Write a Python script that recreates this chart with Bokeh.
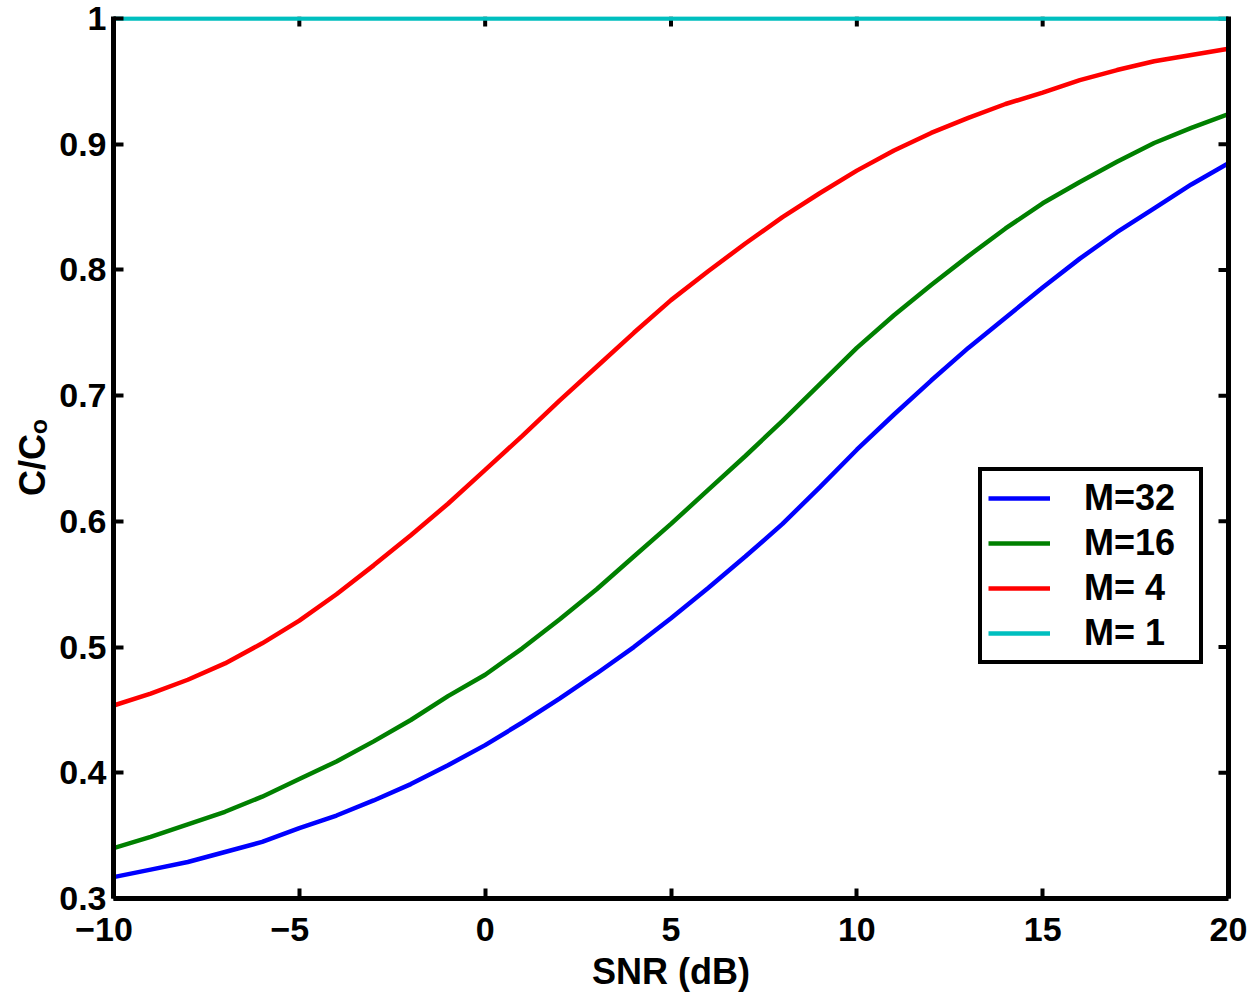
from math import pi
from bokeh.plotting import figure
from bokeh.models import Range1d, LinearAxis, FixedTicker, Legend, LegendItem
from bokeh.embed import file_html
from bokeh.resources import INLINE

# ---- data ----
snr_db = [-10, -9, -8, -7, -6, -5, -4, -3, -2, -1, 0, 1, 2, 3, 4, 5, 6, 7, 8, 9, 10,
          11, 12, 13, 14, 15, 16, 17, 18, 19, 20]
m32 = [0.317, 0.323, 0.329, 0.337, 0.345, 0.356, 0.366, 0.378, 0.391, 0.406,
       0.422, 0.440, 0.459, 0.479, 0.500, 0.523, 0.547, 0.572, 0.598, 0.627, 0.657,
       0.685, 0.712, 0.738, 0.762, 0.786, 0.809, 0.830, 0.849, 0.868, 0.885]
m16 = [0.340, 0.349, 0.359, 0.369, 0.381, 0.395, 0.409, 0.425, 0.442, 0.461,
       0.478, 0.499, 0.522, 0.546, 0.572, 0.598, 0.625, 0.652, 0.680, 0.709, 0.738,
       0.764, 0.788, 0.811, 0.833, 0.853, 0.870, 0.886, 0.901, 0.913, 0.924]
m4 = [0.4535, 0.463, 0.474, 0.487, 0.503, 0.521, 0.542, 0.565, 0.589, 0.614,
      0.641, 0.668, 0.696, 0.723, 0.750, 0.776, 0.799, 0.821, 0.842, 0.861, 0.879,
      0.895, 0.909, 0.921, 0.932, 0.941, 0.951, 0.959, 0.966, 0.971, 0.976]
m1 = [1.0, 1.0, 1.0, 1.0, 1.0, 1.0, 1.0, 1.0, 1.0, 1.0,
      1.0, 1.0, 1.0, 1.0, 1.0, 1.0, 1.0, 1.0, 1.0, 1.0, 1.0,
      1.0, 1.0, 1.0, 1.0, 1.0, 1.0, 1.0, 1.0, 1.0, 1.0]
series_labels = ["M=32", "M=16", "M= 4", "M= 1"]
series_colors = ["#0000ff", "#008000", "#ff0000", "#00bfbf"]
x_ticks = [-10, -5, 0, 5, 10, 15, 20]
x_tick_labels = ["\u221210\u2007", "\u22125\u2007", "0", "5", "10", "15", "20"]
y_ticks = [0.3, 0.4, 0.5, 0.6, 0.7, 0.8, 0.9, 1.0]
y_tick_labels = ["0.3", "0.4", "0.5", "0.6", "0.7", "0.8", "0.9", "1"]
x_label = "SNR (dB)"
y_label = "C/C\u2092"

FONT = "Liberation Sans"
TICK_FS = "34px"
LABEL_FS = "36px"
X_MIN, X_MAX = -10, 20
Y_MIN, Y_MAX = 0.3, 1.0016

p = figure(frame_width=1115, frame_height=882,
           min_border_left=113, min_border_right=27, min_border_top=16, min_border_bottom=95,
           x_range=Range1d(X_MIN, X_MAX), y_range=Range1d(Y_MIN, Y_MAX),
           output_backend="svg", toolbar_location=None,
           x_axis_location=None, y_axis_location=None)
p.outline_line_color = None
p.grid.visible = False
p.background_fill_color = "white"
p.border_fill_color = "white"


def style_axis(ax, ticks, labels):
    ax.ticker = FixedTicker(ticks=ticks)
    ax.major_label_overrides = {t: l for t, l in zip(ticks, labels)}
    ax.minor_tick_line_color = None
    ax.major_tick_in = 10
    ax.major_tick_out = 0
    ax.major_tick_line_width = 4
    ax.major_tick_line_color = "black"
    ax.axis_line_width = 5
    ax.axis_line_color = "black"
    ax.major_label_text_font = FONT
    ax.major_label_text_font_style = "bold"
    ax.major_label_text_font_size = TICK_FS
    ax.major_label_text_color = "black"
    ax.axis_label_text_font = FONT
    ax.axis_label_text_font_style = "bold"
    ax.axis_label_text_font_size = LABEL_FS
    ax.axis_label_text_color = "black"


xb = LinearAxis()
style_axis(xb, x_ticks, x_tick_labels)
xb.major_label_standoff = 11
xb.axis_label = x_label
xb.axis_label_standoff = 0
p.add_layout(xb, "below")

yl = LinearAxis()
style_axis(yl, y_ticks, y_tick_labels)
yl.major_label_standoff = 7
yl.axis_label = y_label
yl.axis_label_standoff = 3
p.add_layout(yl, "left")

# right border line (no ticks / labels on the axis itself)
yr = LinearAxis(ticker=FixedTicker(ticks=[]))
yr.axis_line_width = 5
yr.axis_line_color = "black"
yr.major_tick_line_color = None
yr.minor_tick_line_color = None
p.add_layout(yr, "right")

# inward ticks on the top and right edges of the box
p.ray(x=x_ticks, y=[Y_MAX] * len(x_ticks), length=10, length_units="screen",
      angle=-pi / 2, line_color="black", line_width=4)
p.ray(x=[X_MAX] * len(y_ticks), y=y_ticks, length=10, length_units="screen",
      angle=pi, line_color="black", line_width=4)

renderers = []
for ys, c in zip([m32, m16, m4, m1], series_colors):
    r = p.line(snr_db, ys, line_color=c, line_width=4.5)
    renderers.append(r)

legend = Legend(items=[LegendItem(label=l, renderers=[r]) for l, r in zip(series_labels, renderers)],
                location=(865, 234))
legend.border_line_color = "black"
legend.border_line_alpha = 1.0
legend.border_line_width = 4.5
legend.background_fill_color = "white"
legend.background_fill_alpha = 1.0
legend.label_text_font = FONT
legend.label_text_font_style = "bold"
legend.label_text_font_size = LABEL_FS
legend.label_text_color = "black"
legend.glyph_width = 62
legend.glyph_height = 36
legend.label_standoff = 34
legend.label_height = 36
legend.label_width = 109
legend.spacing = 3
legend.padding = 6
legend.margin = 0
p.add_layout(legend)

open("out.html", "w").write(file_html(p, INLINE))
